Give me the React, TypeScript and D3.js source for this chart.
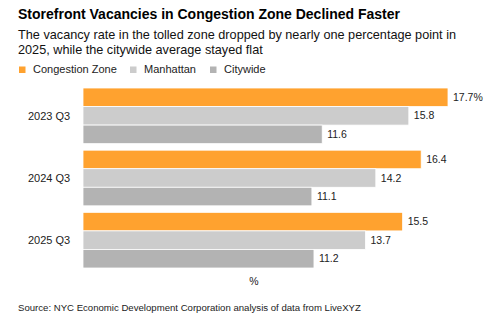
import React, { useEffect, useRef } from "react";
import * as d3 from "d3";

const quarters = ["2023 Q3", "2024 Q3", "2025 Q3"];
const seriesNames = ["Congestion Zone", "Manhattan", "Citywide"];
const seriesColors = ["#ffa22f", "#cccccc", "#b3b3b3"];
const congestionZone = [17.7, 16.4, 15.5];
const manhattan = [15.8, 14.2, 13.7];
const citywide = [11.6, 11.1, 11.2];

const WIDTH = 500;
const HEIGHT = 328;
const FONT = "'Liberation Sans', Arial, sans-serif";

export default function App() {
  const ref = useRef<SVGSVGElement>(null);

  useEffect(() => {
    const svg = d3.select(ref.current);
    svg.selectAll("*").remove();

    const series = [congestionZone, manhattan, citywide];
    const rows = quarters.map((q, i) => ({
      quarter: q,
      values: seriesNames.map((name, s) => ({
        name,
        value: series[s][i],
        color: seriesColors[s],
        // only the top bar carries the unit
        unit: i === 0 && s === 0 ? "%" : "",
      })),
    }));

    const x = d3.scaleLinear().domain([0, 17.7]).range([83, 448]);
    const y = d3.scaleBand().domain(quarters).range([88, 268]).paddingInner(0.105);
    const yInner = d3.scaleBand().domain(seriesNames).range([0, y.bandwidth()]);

    // title block
    svg.append("text")
      .attr("x", 18).attr("y", 19)
      .attr("font-family", FONT).attr("font-weight", "bold").attr("font-size", 14)
      .attr("fill", "#000")
      .text("Storefront Vacancies in Congestion Zone Declined Faster");

    const sub = svg.append("text")
      .attr("font-family", FONT).attr("font-size", 12.7).attr("fill", "#111");
    sub.append("tspan").attr("x", 18).attr("y", 38.5)
      .text("The vacancy rate in the tolled zone dropped by nearly one percentage point in");
    sub.append("tspan").attr("x", 18).attr("y", 54)
      .text("2025, while the citywide average stayed flat");

    // legend
    const legendX = [19, 130, 210];
    const legend = svg.append("g").selectAll("g")
      .data(seriesNames)
      .enter().append("g")
      .attr("transform", (d, i) => `translate(${legendX[i]},66)`);
    legend.append("rect")
      .attr("width", 6.5).attr("height", 6.5).attr("y", 0.5)
      .attr("fill", (d, i) => seriesColors[i]);
    legend.append("text")
      .attr("x", 14).attr("y", 6.5)
      .attr("font-family", FONT).attr("font-size", 11).attr("fill", "#222")
      .text(d => d);

    // category labels
    svg.append("g").selectAll("text")
      .data(quarters)
      .enter().append("text")
      .attr("x", 28)
      .attr("y", d => (y(d) as number) + y.bandwidth() / 2)
      .attr("dy", "0.35em")
      .attr("font-family", FONT).attr("font-size", 11).attr("fill", "#222")
      .text(d => d);

    const groups = svg.append("g").selectAll("g")
      .data(rows)
      .enter().append("g")
      .attr("transform", d => `translate(0,${y(d.quarter)})`);

    groups.selectAll("rect")
      .data(d => d.values)
      .enter().append("rect")
      .attr("x", x(0))
      .attr("y", d => yInner(d.name) as number)
      .attr("width", d => x(d.value) - x(0))
      .attr("height", yInner.bandwidth())
      .attr("fill", d => d.color)
      .attr("stroke", "#fff").attr("stroke-width", 0.8);

    groups.selectAll("text")
      .data(d => d.values)
      .enter().append("text")
      .attr("x", d => x(d.value) + 5)
      .attr("y", d => (yInner(d.name) as number) + yInner.bandwidth() / 2)
      .attr("dy", "0.35em")
      .attr("font-family", FONT).attr("font-size", 10.5).attr("fill", "#222")
      .text(d => d.value.toFixed(1) + d.unit);

    svg.append("text")
      .attr("x", 254).attr("y", 285)
      .attr("text-anchor", "middle")
      .attr("font-family", FONT).attr("font-size", 10.5).attr("fill", "#222")
      .text("%");

    svg.append("text")
      .attr("x", 18).attr("y", 311)
      .attr("font-family", FONT).attr("font-size", 9.6).attr("fill", "#222")
      .text("Source: NYC Economic Development Corporation analysis of data from LiveXYZ");
  }, []);

  return (
    <svg ref={ref} width={WIDTH} height={HEIGHT} viewBox={`0 0 ${WIDTH} ${HEIGHT}`}
      style={{ position: "absolute", left: 0, top: 0, background: "#fff" }} />
  );
}
